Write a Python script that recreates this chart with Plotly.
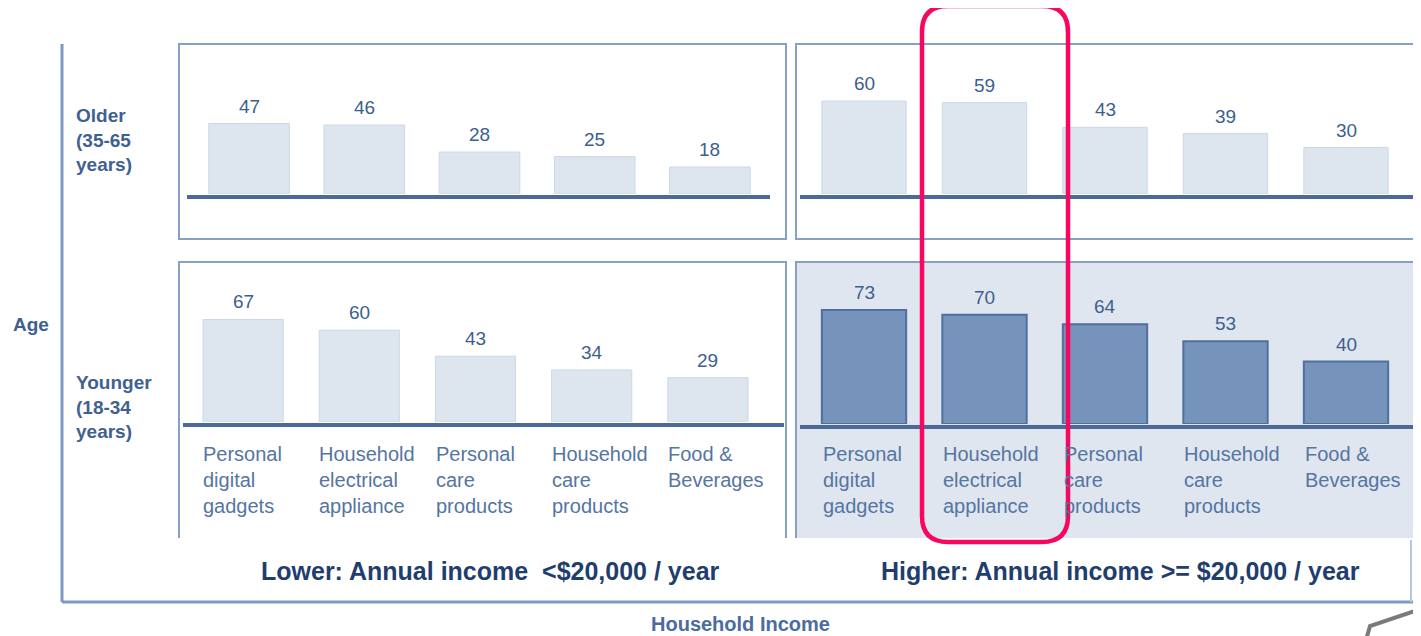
import plotly.graph_objects as go

OFF = 8  # page body margin
W, H = 1421 - OFF, 636 - OFF

categories = ["Personal digital gadgets", "Household electrical appliance",
              "Personal care products", "Household care products", "Food & Beverages"]
cat_labels = ["Personal<br>digital<br>gadgets", "Household<br>electrical<br>appliance",
              "Personal<br>care<br>products", "Household<br>care<br>products",
              "Food &<br>Beverages"]
older_lower = [47, 46, 28, 25, 18]
older_higher = [60, 59, 43, 39, 30]
younger_lower = [67, 60, 43, 34, 29]
younger_higher = [73, 70, 64, 53, 40]
row_labels = ["Older<br>(35-65<br>years)", "Younger<br>(18-34<br>years)"]
col_titles = ["Lower: Annual income  <$20,000 / year",
              "Higher: Annual income >= $20,000 / year"]


def fx(p):
    return (p - OFF) / W


def fy(p):
    return 1 - (p - OFF) / H


FONT = "Liberation Sans, Arial, sans-serif"
VAL_C = "#3d5f8f"
LAB_C = "#5575a2"
FRAME = "#86a0c6"
LIGHT_FILL = "#dde5ef"
LIGHT_LINE = "#cdd8e6"
DARK_FILL = "#7593bb"
DARK_LINE = "#4f709f"

fig = go.Figure()

panels = [
    (older_lower, "", (191.5, 767.5), 194, 44, 1.50, False, 0.70),
    (older_higher, "2", (803.75, 1406.25), 194, 44, 1.55, False, 0.70),
    (younger_lower, "3", (185, 766), 422, 262, 1.53, False, 0.69),
    (younger_higher, "4", (803.75, 1406.25), 424, 262, 1.56, True, 0.70),
]

annotations = []
layout_axes = {}
for vals, sfx, (x0, x1), base, top, sc, dark, bw in panels:
    xa = "x" + sfx
    ya = "y" + sfx
    xs = list(range(len(vals)))
    fig.add_trace(go.Bar(
        x=xs, y=vals, xaxis=xa, yaxis=ya,
        width=bw,
        marker=dict(color=DARK_FILL if dark else LIGHT_FILL,
                    line=dict(color=DARK_LINE if dark else LIGHT_LINE,
                              width=2 if dark else 1)),
        cliponaxis=False, showlegend=False, hoverinfo="skip",
    ))
    for xi, v in zip(xs, vals):
        annotations.append(dict(x=xi, y=v, xref=xa, yref=ya, text=str(v),
                                showarrow=False, xanchor="center", yanchor="bottom",
                                yshift=5,
                                font=dict(family=FONT, size=19, color=VAL_C)))
    ymax = (base - top) / sc
    layout_axes["xaxis" + sfx] = dict(
        domain=[fx(x0), fx(x1)], range=[-0.5, 4.5], visible=False,
        anchor=ya, fixedrange=True)
    layout_axes["yaxis" + sfx] = dict(
        domain=[fy(base), fy(top)], range=[0, ymax], visible=False,
        anchor=xa, fixedrange=True)

shapes = []
# outer L-shaped axis frame
shapes.append(dict(type="line", xref="paper", yref="paper",
                   x0=fx(62), x1=fx(62), y0=fy(44), y1=fy(602),
                   line=dict(color="#7d99c0", width=3)))
shapes.append(dict(type="line", xref="paper", yref="paper",
                   x0=fx(62), x1=fx(1421), y0=fy(602), y1=fy(602),
                   line=dict(color="#7d99c0", width=3)))
shapes.append(dict(type="line", xref="paper", yref="paper",
                   x0=fx(1411), x1=fx(1411), y0=fy(540), y1=fy(602),
                   line=dict(color="#b8c8de", width=2)))
# panel frames
shapes.append(dict(type="rect", xref="paper", yref="paper", layer="below",
                   x0=fx(179), x1=fx(786), y0=fy(239), y1=fy(44),
                   line=dict(color=FRAME, width=2), fillcolor="white"))
shapes.append(dict(type="rect", xref="paper", yref="paper", layer="below",
                   x0=fx(796), x1=fx(1418), y0=fy(239), y1=fy(44),
                   line=dict(color=FRAME, width=2), fillcolor="white"))
shapes.append(dict(type="path", xref="paper", yref="paper", layer="below",
                   path=f"M {fx(179)},{fy(538)} L {fx(179)},{fy(262)} L {fx(786)},{fy(262)} L {fx(786)},{fy(538)}",
                   line=dict(color=FRAME, width=2)))
shapes.append(dict(type="rect", xref="paper", yref="paper", layer="below",
                   x0=fx(796), x1=fx(1418), y0=fy(538), y1=fy(262),
                   line=dict(color=FRAME, width=0), fillcolor="#dfe6f0"))
shapes.append(dict(type="path", xref="paper", yref="paper", layer="below",
                   path=f"M {fx(796)},{fy(538)} L {fx(796)},{fy(262)} L {fx(1418)},{fy(262)} L {fx(1418)},{fy(538)}",
                   line=dict(color=FRAME, width=2)))
# baselines
for (xa, xb, yy) in [(187, 770, 197), (800, 1415, 197), (183, 784, 425), (800, 1415, 427)]:
    shapes.append(dict(type="line", xref="paper", yref="paper",
                       x0=fx(xa), x1=fx(xb), y0=fy(yy), y1=fy(yy),
                       line=dict(color="#4a6b9a", width=4)))
# pink highlight rounded rectangle
l, r, t, b, rad = 922, 1068, 6, 542, 26
pth = (f"M {fx(l + rad)},{fy(t)} L {fx(r - rad)},{fy(t)} Q {fx(r)},{fy(t)} {fx(r)},{fy(t + rad)} "
       f"L {fx(r)},{fy(b - rad)} Q {fx(r)},{fy(b)} {fx(r - rad)},{fy(b)} "
       f"L {fx(l + rad)},{fy(b)} Q {fx(l)},{fy(b)} {fx(l)},{fy(b - rad)} "
       f"L {fx(l)},{fy(t + rad)} Q {fx(l)},{fy(t)} {fx(l + rad)},{fy(t)} Z")
shapes.append(dict(type="path", xref="paper", yref="paper", path=pth,
                   line=dict(color="#f7075f", width=4.5)))
# grey corner stroke
shapes.append(dict(type="path", xref="paper", yref="paper",
                   path=f"M {fx(1366)},{fy(640)} L {fx(1370)},{fy(626)} L {fx(1421)},{fy(609)}",
                   line=dict(color="#7a7a7a", width=4)))

# category labels under lower panels
for sfx in ["3", "4"]:
    for i, lab in enumerate(cat_labels):
        annotations.append(dict(
            x=i - 0.36, xref="x" + sfx, y=fy(441), yref="paper",
            text=lab, showarrow=False, xanchor="left", yanchor="top", align="left",
            font=dict(family=FONT, size=20, color=LAB_C)))
# row labels
for lab, ytop in zip(row_labels, [103, 370]):
    annotations.append(dict(
        x=fx(74), y=fy(ytop), xref="paper", yref="paper", text="<b>" + lab + "</b>",
        showarrow=False, xanchor="left", yanchor="top", align="left",
        font=dict(family=FONT, size=19, color="#3f6192")))
annotations.append(dict(x=fx(31), y=fy(324), xref="paper", yref="paper", text="<b>Age</b>",
                        showarrow=False, xanchor="center", yanchor="middle",
                        font=dict(family=FONT, size=19, color="#3f6192")))
# column titles
for txt, cx in zip(col_titles, [491, 1120]):
    annotations.append(dict(x=fx(cx), y=fy(571), xref="paper", yref="paper",
                            text="<b>" + txt + "</b>", showarrow=False,
                            xanchor="center", yanchor="middle",
                            font=dict(family=FONT, size=25, color="#1f3e6e")))
annotations.append(dict(x=fx(740), y=fy(624), xref="paper", yref="paper",
                        text="<b>Household Income</b>", showarrow=False,
                        xanchor="center", yanchor="middle",
                        font=dict(family=FONT, size=20, color="#4b6c9c")))

fig.update_layout(
    width=W, height=H, margin=dict(l=0, r=0, t=0, b=0),
    paper_bgcolor="white", plot_bgcolor="rgba(0,0,0,0)",
    shapes=shapes, annotations=annotations, bargap=0.3,
    **layout_axes,
)

fig.write_html("out.html", config={"displayModeBar": False})
